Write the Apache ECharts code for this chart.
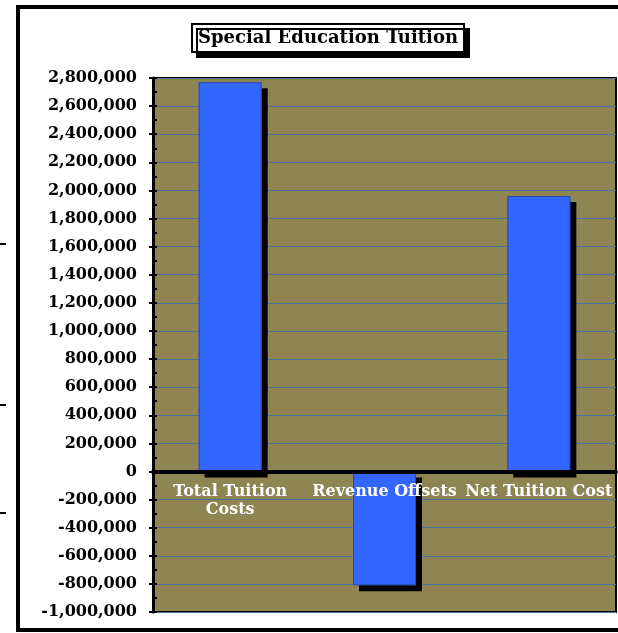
<!DOCTYPE html>
<html>
<head>
<meta charset="utf-8">
<script src="https://cdn.jsdelivr.net/npm/echarts@6/dist/echarts.min.js"></script>
<style>
html,body{margin:0;padding:0;background:#fff;}
#chart{width:618px;height:633px;}
</style>
</head>
<body>
<div id="chart"></div>
<script>
const titleText = 'Special Education Tuition';
const categories = ['Total Tuition Costs', 'Revenue Offsets', 'Net Tuition Cost'];
const values = [2770000, -810000, 1960000];
const yMin = -1000000;
const yMax = 2800000;
const yStep = 200000;
const yMinorStep = 100000;

const serif = '"DejaVu Serif", "Liberation Serif", serif';
const chart = echarts.init(document.getElementById('chart'), null, {renderer: 'canvas'});

chart.setOption({
  backgroundColor: '#ffffff',
  animation: false,
  title: {
    text: titleText,
    left: 192,
    top: 24,
    padding: [5, 6, 5, 6],
    backgroundColor: '#ffffff',
    borderColor: '#000000',
    borderWidth: 2,
    shadowColor: '#000000',
    shadowBlur: 0,
    shadowOffsetX: 5,
    shadowOffsetY: 5,
    textStyle: {fontFamily: serif, fontWeight: 'bold', fontSize: 18, color: '#000'}
  },
  graphic: [
    {type: 'rect', shape: {x: 18, y: 7, width: 700, height: 623}, style: {fill: 'none', stroke: '#000', lineWidth: 4}, z: 100},
    {type: 'line', shape: {x1: 0, y1: 244, x2: 6, y2: 244}, style: {stroke: '#000', lineWidth: 2}},
    {type: 'line', shape: {x1: 0, y1: 405, x2: 6, y2: 405}, style: {stroke: '#000', lineWidth: 2}},
    {type: 'line', shape: {x1: 0, y1: 513, x2: 6, y2: 513}, style: {stroke: '#000', lineWidth: 2}}
  ],
  grid: {
    left: 153, right: 2, top: 78, bottom: 21,
    outerBoundsMode: 'none',
    containLabel: false,
    show: true,
    backgroundColor: '#8f8553',
    borderColor: '#000000',
    borderWidth: 2
  },
  xAxis: {
    type: 'category',
    data: categories,
    z: 5,
    axisLine: {show: true, onZero: true, lineStyle: {color: '#000', width: 4}},
    axisTick: {show: false},
    axisLabel: {
      show: true,
      margin: -129,
      interval: 0,
      fontFamily: serif,
      fontWeight: 'bold',
      fontSize: 16,
      lineHeight: 18,
      color: '#ffffff',
      textShadowColor: '#3a1010',
      textShadowBlur: 0,
      textShadowOffsetX: 1,
      textShadowOffsetY: 1,
      formatter: function (v) { return v === 'Total Tuition Costs' ? 'Total Tuition\nCosts' : v; }
    }
  },
  yAxis: [
    {
      type: 'value',
      min: yMin, max: yMax, interval: yStep,
      axisLine: {show: true, lineStyle: {color: '#000', width: 3}},
      axisTick: {show: true, inside: false, length: 4, lineStyle: {color: '#000', width: 2}},
      splitLine: {show: true, lineStyle: {color: '#4a6fa0', width: 1}},
      axisLabel: {
        margin: 16,
        fontFamily: serif, fontWeight: 'bold', fontSize: 16, color: '#000',
        formatter: function (v) { return v.toLocaleString('en-US'); }
      }
    },
    {
      type: 'value',
      position: 'left',
      min: yMin, max: yMax, interval: yMinorStep,
      axisLine: {show: false},
      axisTick: {show: true, inside: true, length: 4, lineStyle: {color: '#000', width: 2}},
      splitLine: {show: false},
      axisLabel: {show: false}
    }
  ],
  series: [
    {
      type: 'bar',
      data: values,
      barWidth: 63,
      barGap: '-100%',
      itemStyle: {
        color: '#3366ff',
        shadowColor: '#000000',
        shadowBlur: 0,
        shadowOffsetX: 6,
        shadowOffsetY: 6
      }
    },
    {
      type: 'bar',
      data: values,
      barWidth: 63,
      barGap: '-100%',
      silent: true,
      itemStyle: {
        color: 'rgba(0,0,0,0)',
        borderColor: '#2a4d9c',
        borderWidth: 1
      }
    }
  ]
});
</script>
</body>
</html>
